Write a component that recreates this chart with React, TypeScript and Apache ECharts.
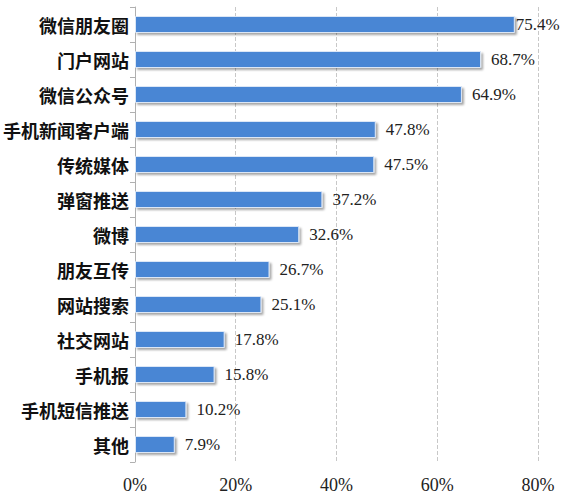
import { useRef, useEffect } from "react";
import * as echarts from "echarts";

// 渠道名称（从上到下）
const categories = [
  "微信朋友圈",
  "门户网站",
  "微信公众号",
  "手机新闻客户端",
  "传统媒体",
  "弹窗推送",
  "微博",
  "朋友互传",
  "网站搜索",
  "社交网站",
  "手机报",
  "手机短信推送",
  "其他",
];
// 占比（%）
const values = [75.4, 68.7, 64.9, 47.8, 47.5, 37.2, 32.6, 26.7, 25.1, 17.8, 15.8, 10.2, 7.9];
// x 轴刻度
const xTicks = [0, 20, 40, 60, 80];

const App = () => {
  const chartRef = useRef<HTMLDivElement>(null);

  useEffect(() => {
    const myChart = echarts.init(chartRef.current, null, { renderer: "svg" });

    myChart.setOption({
      animation: false,
      backgroundColor: "#fff",
      grid: { left: 133, right: 26, top: 7, bottom: 38 },
      xAxis: {
        type: "value",
        min: xTicks[0],
        max: xTicks[xTicks.length - 1],
        interval: xTicks[1] - xTicks[0],
        axisLine: { show: false },
        axisTick: { show: false },
        axisLabel: {
          formatter: "{value}%",
          fontFamily: "Liberation Serif",
          fontSize: 18,
          color: "#222",
          margin: 14,
        },
        splitLine: {
          show: true,
          lineStyle: { type: "dashed", color: "#c8c8c8" },
        },
      },
      yAxis: {
        type: "category",
        inverse: true,
        data: categories,
        axisLine: { show: true, lineStyle: { color: "#b0b0b0" } },
        axisTick: { show: true, length: 5, lineStyle: { color: "#b0b0b0" } },
        axisLabel: {
          fontFamily: "Noto Sans CJK SC",
          fontWeight: "bold",
          fontSize: 18,
          color: "#111",
          margin: 6,
        },
      },
      series: [
        {
          type: "bar",
          // 最长的一条标签紧贴柱端，避免超出画布
          data: values.map((v, i) => (i === 0 ? { value: v, label: { distance: 1 } } : v)),
          barWidth: 17,
          itemStyle: {
            color: "#4a86d4",
            borderColor: "#dce7f6",
            borderWidth: 1,
            shadowColor: "rgba(0,0,0,0.35)",
            shadowBlur: 2,
            shadowOffsetX: 2,
            shadowOffsetY: 2,
          },
          label: {
            show: true,
            position: "right",
            distance: 10,
            formatter: "{c}%",
            fontFamily: "Liberation Serif",
            fontSize: 17,
            color: "#222",
          },
        },
      ],
    });

    return () => {
      myChart.dispose();
    };
  }, []);

  return (
    <div
      ref={chartRef}
      style={{ position: "absolute", left: 0, top: 0, width: "564px", height: "500px" }}
    ></div>
  );
};

export default App;
